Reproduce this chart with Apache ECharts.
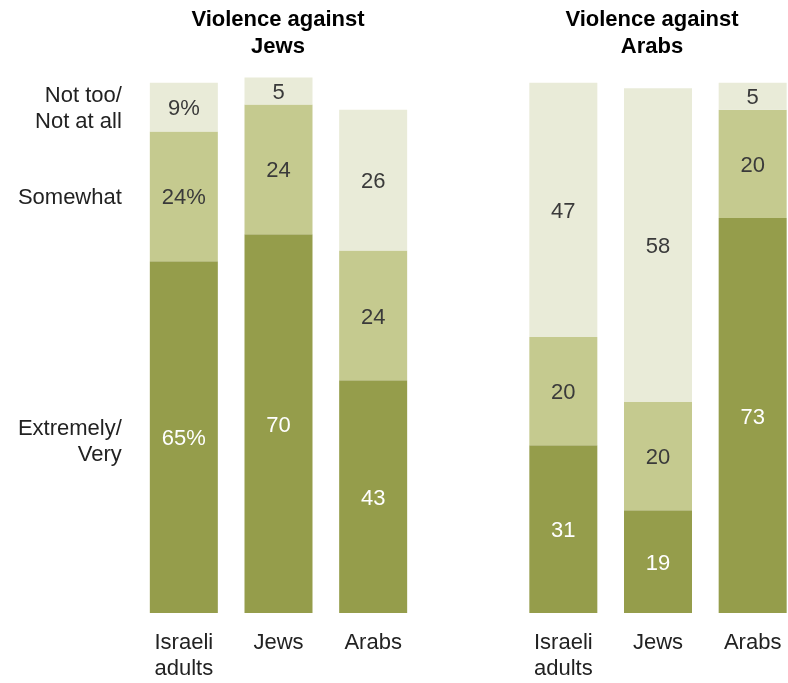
<!DOCTYPE html>
<html>
<head>
<meta charset="utf-8">
<style>
  html, body { margin: 0; padding: 0; background: #fff; overflow: hidden; }
  #wrap { width: 788px; height: 683px; overflow: hidden; }
  #chart { width: 830px; height: 683px; }
</style>
<script src="https://cdn.jsdelivr.net/npm/echarts@6/dist/echarts.min.js"></script>
</head>
<body>
<div id="wrap"><div id="chart"></div></div>
<script>
// Groups surveyed
const categories = ['Israeli\nadults', 'Jews', 'Arabs'];

// Violence against Jews: concern levels (%)
const jewsExtremely = [65, 70, 43];
const jewsSomewhat = [24, 24, 24];
const jewsNotToo = [9, 5, 26];

// Violence against Arabs: concern levels (%)
const arabsExtremely = [31, 19, 73];
const arabsSomewhat = [20, 20, 20];
const arabsNotToo = [47, 58, 5];

// Row names shown to the left of the first column
const rowNames = ['Extremely/\nVery', 'Somewhat', 'Not too/\nNot at all'];

const panelTitles = ['Violence against\nJews', 'Violence against\nArabs'];

const COLORS = ['#959d4b', '#c5ca8f', '#e9ebd8'];
const FONT = '"Liberation Sans", Arial, sans-serif';

const chart = echarts.init(document.getElementById('chart'), null, { renderer: 'canvas' });

function segment(name, data, colorIdx, xIdx, percentFirst) {
  return {
    type: 'bar',
    name: name,
    stack: 'main' + xIdx,
    xAxisIndex: xIdx,
    yAxisIndex: xIdx,
    data: data,
    barWidth: 68,
    barGap: '-100%',
    itemStyle: { color: COLORS[colorIdx] },
    emphasis: { disabled: true },
    label: {
      show: true,
      position: 'inside',
      offset: [0, 2],
      fontFamily: FONT,
      fontSize: 22,
      color: colorIdx === 0 ? '#ffffff' : '#3a3a3a',
      formatter: p => (percentFirst && p.dataIndex === 0) ? p.value + '%' : String(p.value)
    }
  };
}

// Transparent copies of the first column that carry the row names on their left
function rowLabel(idx, data) {
  return {
    type: 'bar',
    stack: 'rowNames',
    xAxisIndex: 0,
    yAxisIndex: 0,
    data: data.map((v, i) => i === 0 ? v : '-'),
    barWidth: 68,
    barGap: '-100%',
    silent: true,
    itemStyle: { color: 'rgba(0,0,0,0)' },
    label: {
      show: true,
      position: 'left',
      distance: 28,
      offset: [0, idx === 0 ? 5 : 2],
      align: 'right',
      fontFamily: FONT,
      fontSize: 22,
      lineHeight: 26,
      color: '#222222',
      formatter: () => rowNames[idx]
    }
  };
}

const grids = [
  { left: 136.5, width: 284, top: 72, bottom: 70 },
  { left: 516, width: 284, top: 72, bottom: 70 }
];

const xAxes = grids.map((g, i) => ({
  type: 'category',
  gridIndex: i,
  data: categories,
  axisLine: { show: false },
  axisTick: { show: false },
  axisLabel: {
    margin: 17,
    fontFamily: FONT,
    fontSize: 22,
    lineHeight: 26,
    color: '#222222',
    verticalAlign: 'top'
  }
}));

const yAxes = grids.map((g, i) => ({
  type: 'value',
  gridIndex: i,
  min: 0,
  max: 100,
  show: false,
  splitLine: { show: false }
}));

chart.setOption({
  animation: false,
  title: panelTitles.map((t, i) => ({
    text: t,
    left: (i === 0 ? 273 : 647),
    top: 1,
    textAlign: 'center',
    textStyle: {
      fontFamily: FONT,
      fontSize: 22,
      fontWeight: 'bold',
      lineHeight: 27,
      color: '#000000'
    }
  })),
  grid: grids,
  xAxis: xAxes,
  yAxis: yAxes,
  series: [
    segment('Extremely/Very', jewsExtremely, 0, 0, true),
    segment('Somewhat', jewsSomewhat, 1, 0, true),
    segment('Not too/Not at all', jewsNotToo, 2, 0, true),
    rowLabel(0, jewsExtremely),
    rowLabel(1, jewsSomewhat),
    rowLabel(2, jewsNotToo),
    segment('Extremely/Very', arabsExtremely, 0, 1, false),
    segment('Somewhat', arabsSomewhat, 1, 1, false),
    segment('Not too/Not at all', arabsNotToo, 2, 1, false)
  ]
});
</script>
</body>
</html>
